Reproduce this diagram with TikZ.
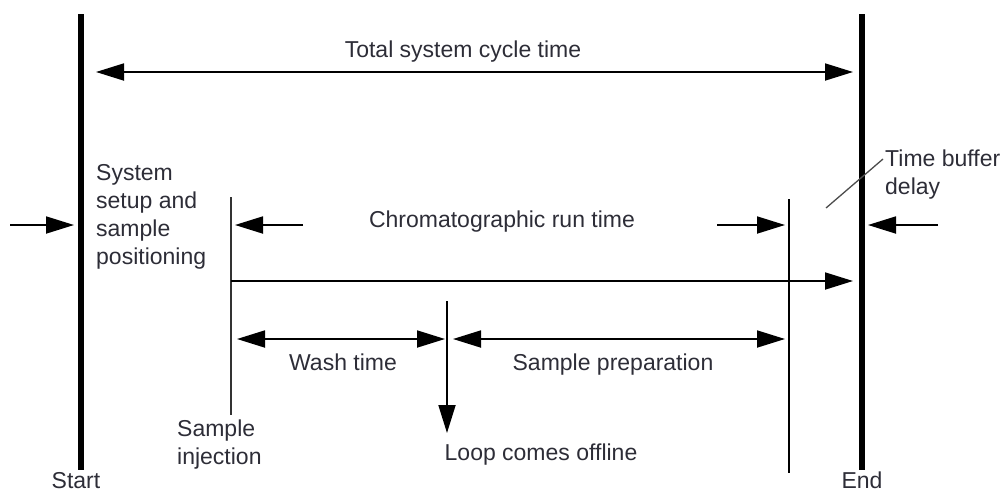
\documentclass[tikz,border=0pt]{standalone}
\usepackage{fontspec}
\setmainfont{Liberation Sans}
\usetikzlibrary{arrows.meta}
\definecolor{txt}{RGB}{45,45,55}
\begin{document}
\begin{tikzpicture}[x=1pt,y=-1pt,
  lbl/.style={inner sep=0pt,text=txt,font=\fontsize{23}{28}\selectfont},
  bar/.style={line width=6pt,black},
  tick/.style={line width=1.8pt,black!80},
  thin/.style={line width=1.8pt,black},
  tip/.style={-{Triangle[length=28pt,width=17pt]}},
  tips/.style={{Triangle[length=28pt,width=17pt]}-{Triangle[length=28pt,width=17pt]}},
  leader/.style={line width=1.3pt,black!70}]
\useasboundingbox (0,0) rectangle (1005,491);
% vertical bars
\coordinate (st) at (81,14);  \coordinate (sb) at (81,470);
\coordinate (et) at (862,14); \coordinate (eb) at (862,470);
\draw[bar] (st) -- (sb);
\draw[bar] (et) -- (eb);
% thin vertical lines
\coordinate (it) at (231,197); \coordinate (ib) at (231,415);
\coordinate (pt) at (789,199); \coordinate (pb) at (789,473);
\coordinate (lt) at (447,301); \coordinate (lb) at (447,433);
\draw[tick] (it) -- (ib);
\draw[thin] (pt) -- (pb);
\draw[thin,tip] (lt) -- (lb);
% total cycle arrow
\coordinate (t1) at (96,72); \coordinate (t2) at (853,72);
\draw[thin,tips] (t1) -- (t2);
% outer arrows
\coordinate (ol1) at (10,225); \coordinate (ol2) at (74,225);
\coordinate (or1) at (938,225); \coordinate (or2) at (868,225);
\draw[thin,tip] (ol1) -- (ol2);
\draw[thin,tip] (or1) -- (or2);
% chromatographic arrows
\coordinate (c1) at (303,225); \coordinate (c2) at (235,225);
\coordinate (c3) at (717,225); \coordinate (c4) at (785,225);
\draw[thin,tip] (c1) -- (c2);
\draw[thin,tip] (c3) -- (c4);
% long arrow
\coordinate (la1) at (231,281); \coordinate (la2) at (853,281);
\draw[thin,tip] (la1) -- (la2);
% wash and prep
\coordinate (w1) at (237,339); \coordinate (w2) at (445,339);
\coordinate (p1) at (453,339); \coordinate (p2) at (785,339);
\draw[thin,tips] (w1) -- (w2);
\draw[thin,tips] (p1) -- (p2);
% leader
\coordinate (d1) at (826,208); \coordinate (d2) at (883,159);
\draw[leader] (d1) -- (d2);
% labels
\node[lbl,anchor=base] (total) at (463,57) {Total system cycle time};
\node[lbl,anchor=base] (chrom) at (502,227) {Chromatographic run time};
\node[lbl,anchor=base] (wash) at (343,370) {Wash time};
\node[lbl,anchor=base] (prep) at (613,370) {Sample preparation};
\node[lbl,anchor=base] (loop) at (541,460) {Loop comes offline};
\node[lbl,anchor=base] (start) at (76,488) {Start};
\node[lbl,anchor=base] (end) at (862,488) {End};
\node[lbl,anchor=north west,align=left] (setup) at (96,164) {System\\setup and\\sample\\positioning};
\node[lbl,anchor=north west,align=left] (inj) at (177,420) {Sample\\injection};
\node[lbl,anchor=north west,align=left] (buf) at (885,150) {Time buffer\\delay};
\end{tikzpicture}
\end{document}
